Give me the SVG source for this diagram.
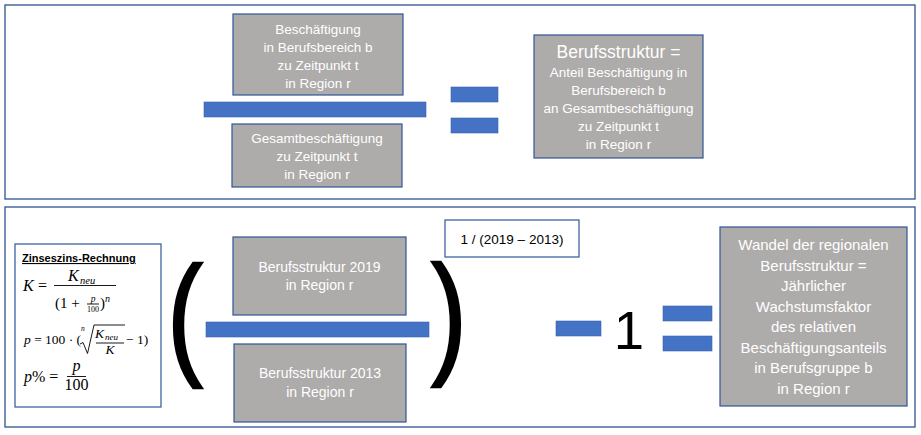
<svg xmlns="http://www.w3.org/2000/svg" width="921" height="435" viewBox="0 0 921 435">
<style>
.frame{fill:#fff;stroke:#2F528F;stroke-width:1.3}
.box{fill:#AEABAB;stroke:#2F5597;stroke-width:1.2}
.wbox{fill:#fff;stroke:#2F5597;stroke-width:1.2}
.bar{fill:#4472C4;stroke:#3B63AD;stroke-width:0.6}
.t{font-family:"Liberation Sans",Arial,sans-serif;fill:#fff;text-anchor:middle}
.k{font-family:"Liberation Sans",Arial,sans-serif;fill:#000;text-anchor:middle}
.m{font-family:"Liberation Serif","Times New Roman",serif;fill:#000}
.i{font-style:italic}
.fl{stroke:#000;stroke-width:0.9}
</style>
<rect width="921" height="435" fill="#fff"/>
<rect class="frame" x="5" y="5" width="910" height="194"/>
<rect class="frame" x="5" y="207" width="910" height="220"/>

<g id="connectors">
<rect class="bar" x="204" y="102" width="222" height="15"/>
<rect class="bar" x="451" y="87" width="47" height="15"/>
<rect class="bar" x="451" y="118" width="47" height="15"/>
<rect class="bar" x="206" y="322" width="223" height="15"/>
<rect class="bar" x="556" y="321" width="45" height="15"/>
<rect class="bar" x="663" y="306" width="49" height="15"/>
<rect class="bar" x="663" y="336" width="49" height="15"/>
<text class="k" x="629" y="349" font-size="54.5">1</text>
<text class="k" transform="translate(185,360) scale(0.8,1)" x="0" y="0" font-size="133" stroke="#000" stroke-width="2.4">(</text>
<text class="k" transform="translate(449,359) scale(0.8,1)" x="0" y="0" font-size="133" stroke="#000" stroke-width="2.4">)</text>
</g>

<g id="n-beschaeftigung">
<rect class="box" x="233" y="14" width="170" height="81"/>
<text class="t" font-size="13.5"><tspan x="318" y="34">Beschäftigung</tspan><tspan x="318" y="52">in Berufsbereich b</tspan><tspan x="318" y="70">zu Zeitpunkt t</tspan><tspan x="318" y="88">in Region r</tspan></text>
</g>
<g id="n-gesamt">
<rect class="box" x="232" y="124" width="170" height="63"/>
<text class="t" font-size="13.5"><tspan x="317" y="143">Gesamtbeschäftigung</tspan><tspan x="317" y="161">zu Zeitpunkt t</tspan><tspan x="317" y="179">in Region r</tspan></text>
</g>
<g id="n-berufsstruktur">
<rect class="box" x="534" y="35" width="169" height="123"/>
<text class="t" x="618.5" y="58" font-size="17.5">Berufsstruktur =</text>
<text class="t" font-size="13.5"><tspan x="618.5" y="77">Anteil Beschäftigung in</tspan><tspan x="618.5" y="95">Berufsbereich b</tspan><tspan x="618.5" y="113">an Gesamtbeschäftigung</tspan><tspan x="618.5" y="131">zu Zeitpunkt t</tspan><tspan x="618.5" y="149">in Region r</tspan></text>
</g>

<g id="n-zinseszins">
<rect class="wbox" x="15" y="244" width="146" height="163"/>
<text x="22" y="262" font-family="'Liberation Sans',Arial,sans-serif" font-size="11" font-weight="bold" text-decoration="underline" fill="#000">Zinseszins-Rechnung</text>
<g class="m">
<text class="i" x="23" y="291" font-size="16">K</text>
<text x="38" y="291" font-size="16">=</text>
<text class="i" x="68" y="281" font-size="16">K</text>
<text class="i" x="80" y="284" font-size="10.5">neu</text>
<line class="fl" x1="54" y1="285.5" x2="116" y2="285.5"/>
<text x="55" y="308" font-size="15">(1 +</text>
<text class="i" x="93" y="301.5" font-size="9.5" text-anchor="middle">p</text>
<line class="fl" x1="87" y1="304" x2="99" y2="304" stroke-width="0.6"/>
<text x="93" y="311.5" font-size="8" text-anchor="middle">100</text>
<text x="100" y="308" font-size="15">)</text>
<text class="i" x="105" y="302" font-size="10">n</text>

<text x="24" y="344" font-size="13.5"><tspan font-style="italic">p</tspan> = 100 · (</text>
<text class="i" x="81" y="331" font-size="7.5">n</text>
<path d="M80,344 l3,-1.5 l4.5,11 l6.5,-28.5 h31" fill="none" stroke="#000" stroke-width="0.9"/>
<text class="i" x="95" y="338" font-size="13.5">K</text>
<text class="i" x="105" y="340" font-size="9">neu</text>
<line class="fl" x1="96" y1="343" x2="124" y2="343" stroke-width="0.7"/>
<text class="i" x="110" y="354" font-size="13.5" text-anchor="middle">K</text>
<text x="126" y="344" font-size="13.5">− 1)</text>

<text x="24" y="382" font-size="16"><tspan font-style="italic">p</tspan>% =</text>
<text class="i" x="76.5" y="371" font-size="16" text-anchor="middle">p</text>
<line class="fl" x1="67" y1="376.5" x2="86" y2="376.5"/>
<text x="76.5" y="390" font-size="16" text-anchor="middle">100</text>
</g>
</g>

<g id="n-2019">
<rect class="box" x="233" y="237" width="173" height="78"/>
<text class="t" font-size="14"><tspan x="319.5" y="272">Berufsstruktur 2019</tspan><tspan x="319.5" y="290">in Region r</tspan></text>
</g>
<g id="n-2013">
<rect class="box" x="234" y="344" width="172" height="78"/>
<text class="t" font-size="14"><tspan x="320" y="378">Berufsstruktur 2013</tspan><tspan x="320" y="397">in Region r</tspan></text>
</g>
<g id="n-exponent">
<rect class="wbox" x="445" y="220" width="134" height="37"/>
<text class="k" x="512" y="243.5" font-size="13.5">1 / (2019 – 2013)</text>
</g>
<g id="n-wandel">
<rect class="box" x="720" y="227" width="187" height="179"/>
<text class="t" font-size="15"><tspan x="813.5" y="250">Wandel der regionalen</tspan><tspan x="813.5" y="270.5">Berufsstruktur =</tspan><tspan x="813.5" y="291">Jährlicher</tspan><tspan x="813.5" y="311.5">Wachstumsfaktor</tspan><tspan x="813.5" y="332">des relativen</tspan><tspan x="813.5" y="352.5">Beschäftigungsanteils</tspan><tspan x="813.5" y="373">in Berufsgruppe b</tspan><tspan x="813.5" y="393.5">in Region r</tspan></text>
</g>
</svg>
